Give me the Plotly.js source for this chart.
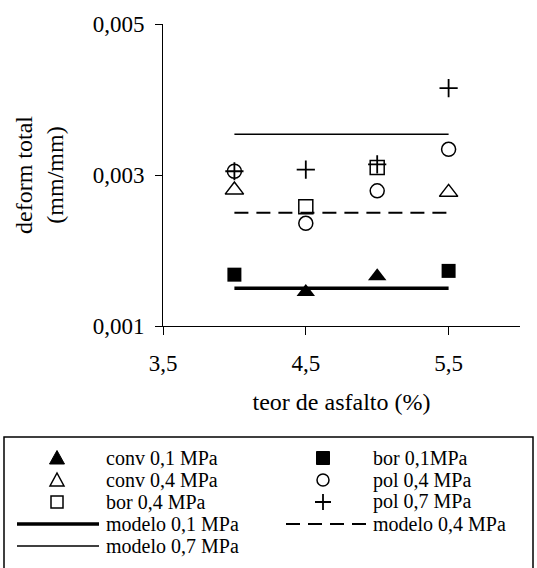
<!DOCTYPE html>
<html>
<head>
<meta charset="utf-8">
<script src="https://cdn.plot.ly/plotly-3.0.1.min.js"></script>
<style>
  html, body { margin: 0; padding: 0; background: #fff; }
  #chart { width: 537px; height: 568px; }
</style>
</head>
<body>
<div id="chart"></div>
<script>
// Asphalt content (%) on the x axis, total strain (mm/mm) on the y axis
const convX01 = [4.5, 5.0];
const convY01 = [0.00145, 0.00166];
const borX01 = [4.0, 5.5];
const borY01 = [0.00168, 0.00173];
const convX04 = [4.0, 5.5];
const convY04 = [0.00280, 0.00277];
const polX04 = [4.0, 4.5, 5.0, 5.5];
const polY04 = [0.00305, 0.00236, 0.00279, 0.00334];
const borX04 = [4.5, 5.0];
const borY04 = [0.00258, 0.00310];
const polX07 = [4.0, 4.5, 5.0, 5.5];
const polY07 = [0.00305, 0.00307, 0.00314, 0.00415];
const modelX = [4.0, 5.5];
const modelY01 = [0.0015, 0.0015];
const modelY04 = [0.0025, 0.0025];
const modelY07 = [0.00354, 0.00354];

const xTicks = [3.5, 4.5, 5.5];
const yTicks = [0.001, 0.003, 0.005];

const labels = {
  conv01: 'conv 0,1 MPa', bor01: 'bor 0,1MPa',
  conv04: 'conv 0,4 MPa', pol04: 'pol 0,4 MPa',
  bor04: 'bor 0,4 MPa', pol07: 'pol 0,7 MPa',
  mod01: 'modelo 0,1 MPa', mod04: 'modelo 0,4 MPa',
  mod07: 'modelo 0,7 MPa'
};

const FONT = 'Liberation Serif';
const BLACK = '#000000';
const NONE = 'rgba(0,0,0,0)';

// marker styles for the plotted points
const markerStyle = {
  conv01: { symbol: 'triangle-up', size: 16, color: BLACK },
  bor01: { symbol: 'square', size: 14, color: BLACK },
  conv04: { symbol: 'triangle-up-open', size: 16, color: BLACK, line: { color: BLACK, width: 1.5 } },
  pol04: { symbol: 'circle-open', size: 14, color: BLACK, line: { color: BLACK, width: 1.5 } },
  bor04: { symbol: 'square-open', size: 14, color: BLACK, line: { color: BLACK, width: 1.5 } },
  pol07: { symbol: 'cross-thin-open', size: 13, color: BLACK, line: { color: BLACK, width: 1.8 } }
};
const lineStyle = {
  mod01: { color: BLACK, width: 3.5 },
  mod04: { color: BLACK, width: 2, dash: '14px,8px' },
  mod07: { color: BLACK, width: 1.5 }
};

function pts(key, x, y) {
  return { type: 'scatter', mode: 'markers', x: x, y: y, name: labels[key],
           marker: markerStyle[key], hoverinfo: 'x+y+name' };
}
function line(key, x, y) {
  return { type: 'scatter', mode: 'lines', x: x, y: y, name: labels[key],
           line: lineStyle[key], hoverinfo: 'x+y+name' };
}

const traces = [
  line('mod01', modelX, modelY01),
  line('mod04', modelX, modelY04),
  line('mod07', modelX, modelY07),
  pts('conv01', convX01, convY01),
  pts('bor01', borX01, borY01),
  pts('conv04', convX04, convY04),
  pts('pol04', polX04, polY04),
  pts('bor04', borX04, borY04),
  pts('pol07', polX07, polY07)
];

// ---- boxed two-column key below the chart ----
const W = 537, H = 568;
const M = { l: 163, r: 17, t: 24, b: 242 };
const pw = W - M.l - M.r, ph = H - M.t - M.b;
const px2x = p => (p - M.l) / pw;
const py2y = p => (H - M.b - p) / ph;

// key glyphs drawn as pixel-sized shapes (y offsets point up)
const keyGlyph = {
  conv01: { type: 'path', path: 'M-7.5,-6L7.5,-6L0,7.5Z', fillcolor: BLACK, line: { color: BLACK, width: 1 } },
  conv04: { type: 'path', path: 'M-7,-6L7,-6L0,7Z', fillcolor: NONE, line: { color: BLACK, width: 1.5 } },
  bor01: { type: 'rect', x0: -6.5, x1: 6.5, y0: -6.5, y1: 6.5, fillcolor: BLACK, line: { color: BLACK, width: 1 } },
  bor04: { type: 'rect', x0: -6, x1: 6, y0: -6, y1: 6, fillcolor: NONE, line: { color: BLACK, width: 1.5 } },
  pol04: { type: 'circle', x0: -6, x1: 6, y0: -6, y1: 6, fillcolor: NONE, line: { color: BLACK, width: 1.5 } },
  pol07: { type: 'path', path: 'M-8,0H8M0,-8V8', fillcolor: NONE, line: { color: BLACK, width: 1.8 } }
};

const keyRows = [
  ['conv01', 'bor01'],
  ['conv04', 'pol04'],
  ['bor04', 'pol07'],
  ['mod01', 'mod04'],
  ['mod07']
];
const rowTop = 458, rowStep = 22;
const colKeyX = [57, 323], colTextX = [104, 371];
const colLine = [[17, 99], [286, 366]];

const shapes = [{
  type: 'rect', xref: 'paper', yref: 'paper',
  x0: px2x(4), x1: px2x(533), y0: py2y(437), y1: py2y(590),
  line: { color: BLACK, width: 1.5 }, fillcolor: NONE
}];
const annotations = [];

keyRows.forEach((row, i) => {
  const yPix = rowTop + i * rowStep;
  row.forEach((key, c) => {
    if (keyGlyph[key]) {
      shapes.push(Object.assign({
        xref: 'paper', yref: 'paper',
        xsizemode: 'pixel', ysizemode: 'pixel',
        xanchor: px2x(colKeyX[c]), yanchor: py2y(yPix)
      }, keyGlyph[key]));
    } else {
      shapes.push({
        type: 'line', xref: 'paper', yref: 'paper',
        x0: px2x(colLine[c][0]), x1: px2x(colLine[c][1]),
        y0: py2y(yPix), y1: py2y(yPix), line: lineStyle[key]
      });
    }
    annotations.push({
      xref: 'paper', yref: 'paper', x: px2x(colTextX[c]), y: py2y(yPix),
      xanchor: 'left', yanchor: 'middle', showarrow: false,
      text: labels[key], font: { family: FONT, size: 20, color: BLACK }
    });
  });
});

const axisCommon = {
  showline: true, linecolor: BLACK, linewidth: 1,
  ticks: 'outside', tickcolor: BLACK, tickwidth: 1,
  showgrid: false, zeroline: false,
  tickfont: { family: FONT, size: 23, color: BLACK }
};

const layout = {
  width: W, height: H,
  margin: M,
  separators: ',.',
  paper_bgcolor: '#ffffff', plot_bgcolor: '#ffffff',
  showlegend: false,
  font: { family: FONT, size: 22, color: BLACK },
  xaxis: Object.assign({}, axisCommon, {
    range: [3.5, 6], tickvals: xTicks, tickformat: '.1f', ticklen: 8,
    ticklabelstandoff: 8,
    title: { text: 'teor de asfalto (%)', font: { family: FONT, size: 24, color: BLACK }, standoff: 18 }
  }),
  yaxis: Object.assign({}, axisCommon, {
    range: [0.001, 0.005], tickvals: yTicks, tickformat: '.3f', ticklen: 7,
    ticklabelstandoff: 6,
    title: { text: 'deform total<br>(mm/mm)', font: { family: FONT, size: 24, color: BLACK }, standoff: 22 }
  }),
  shapes: shapes,
  annotations: annotations
};

Plotly.newPlot('chart', traces, layout, { displayModeBar: false, staticPlot: true });
</script>
</body>
</html>
